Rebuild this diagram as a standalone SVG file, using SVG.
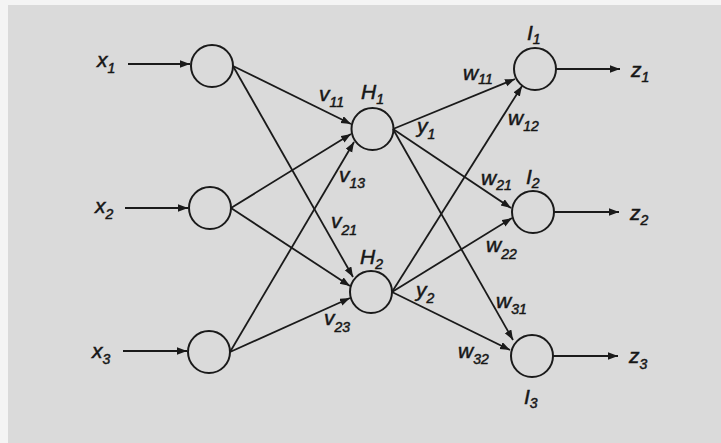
<svg xmlns="http://www.w3.org/2000/svg" width="721" height="443" viewBox="0 0 721 443">
<defs>
<marker id="ah" markerUnits="userSpaceOnUse" markerWidth="12" markerHeight="9" refX="10" refY="3.75" orient="auto">
<path d="M0,0 L10,3.75 L0,7.5 z" fill="#1a1a1a"/>
</marker>
<style>
.bg{fill:#dadada}
.n{fill:none;stroke:#1a1a1a;stroke-width:2}
.e{stroke:#1a1a1a;stroke-width:1.8;fill:none;marker-end:url(#ah)}
.t{font-family:"Liberation Sans",Arial,sans-serif;font-style:italic;font-size:21px;fill:#161616;stroke:#161616;stroke-width:0.5}
.s{font-size:14px}
</style>
</defs>
<rect x="0" y="0" width="721" height="443" fill="#f4f4f4"/>
<rect class="bg" x="8" y="5" width="713" height="438"/>
<g id="connectors">
<line class="e" x1="128" y1="64" x2="190" y2="64"/>
<line class="e" x1="125" y1="208" x2="188" y2="208"/>
<line class="e" x1="123" y1="351" x2="187" y2="351"/>
<line class="e" x1="233" y1="66" x2="351" y2="124"/>
<line class="e" x1="233" y1="66" x2="353" y2="277"/>
<line class="e" x1="231" y1="208" x2="351" y2="134"/>
<line class="e" x1="231" y1="208" x2="350" y2="286"/>
<line class="e" x1="230" y1="352" x2="354" y2="142"/>
<line class="e" x1="230" y1="352" x2="350" y2="298"/>
<line class="e" x1="393" y1="129" x2="515" y2="79"/>
<line class="e" x1="393" y1="129" x2="511" y2="208"/>
<line class="e" x1="393" y1="129" x2="513" y2="340"/>
<line class="e" x1="392" y1="292" x2="522" y2="86"/>
<line class="e" x1="392" y1="292" x2="512" y2="218"/>
<line class="e" x1="392" y1="292" x2="510" y2="350"/>
<line class="e" x1="556" y1="69" x2="620" y2="69"/>
<line class="e" x1="554" y1="212" x2="619" y2="212"/>
<line class="e" x1="553" y1="356" x2="618" y2="356"/>
</g>
<g id="X1"><circle class="n" cx="212" cy="66" r="21"/><text class="t" x="97" y="67">x<tspan class="s" dy="6">1</tspan></text></g>
<g id="X2"><circle class="n" cx="210" cy="208" r="21"/><text class="t" x="95" y="213">x<tspan class="s" dy="6">2</tspan></text></g>
<g id="X3"><circle class="n" cx="209" cy="352" r="21"/><text class="t" x="92" y="358">x<tspan class="s" dy="6">3</tspan></text></g>
<g id="H1"><circle class="n" cx="372.5" cy="129" r="21"/><text class="t" x="361" y="99">H<tspan class="s" dy="5">1</tspan></text></g>
<g id="H2"><circle class="n" cx="371" cy="292" r="21"/><text class="t" x="360" y="264">H<tspan class="s" dy="5">2</tspan></text></g>
<g id="I1"><circle class="n" cx="535" cy="69" r="21"/><text class="t" x="527" y="40">I<tspan class="s" dy="4">1</tspan></text></g>
<g id="I2"><circle class="n" cx="533" cy="212" r="21"/><text class="t" x="526" y="184">I<tspan class="s" dy="4">2</tspan></text></g>
<g id="I3"><circle class="n" cx="532" cy="356" r="21"/><text class="t" x="524" y="404">I<tspan class="s" dy="4">3</tspan></text></g>
<g id="labels">
<text class="t" x="319" y="101">v<tspan class="s" dy="6">11</tspan></text>
<text class="t" x="339" y="182">v<tspan class="s" dy="6">13</tspan></text>
<text class="t" x="331" y="228">v<tspan class="s" dy="7">21</tspan></text>
<text class="t" x="324" y="325">v<tspan class="s" dy="7">23</tspan></text>
<text class="t" x="417" y="133">y<tspan class="s" dy="6">1</tspan></text>
<text class="t" x="416" y="297">y<tspan class="s" dy="6">2</tspan></text>
<text class="t" x="463" y="80">w<tspan class="s" dy="4">11</tspan></text>
<text class="t" x="508" y="125">w<tspan class="s" dy="6">12</tspan></text>
<text class="t" x="481" y="185">w<tspan class="s" dy="5">21</tspan></text>
<text class="t" x="486" y="252">w<tspan class="s" dy="7">22</tspan></text>
<text class="t" x="496" y="308">w<tspan class="s" dy="6">31</tspan></text>
<text class="t" x="458" y="358">w<tspan class="s" dy="6">32</tspan></text>
<text class="t" x="631" y="77">z<tspan class="s" dy="5">1</tspan></text>
<text class="t" x="630" y="220">z<tspan class="s" dy="5">2</tspan></text>
<text class="t" x="629" y="363">z<tspan class="s" dy="6">3</tspan></text>
</g>
</svg>
